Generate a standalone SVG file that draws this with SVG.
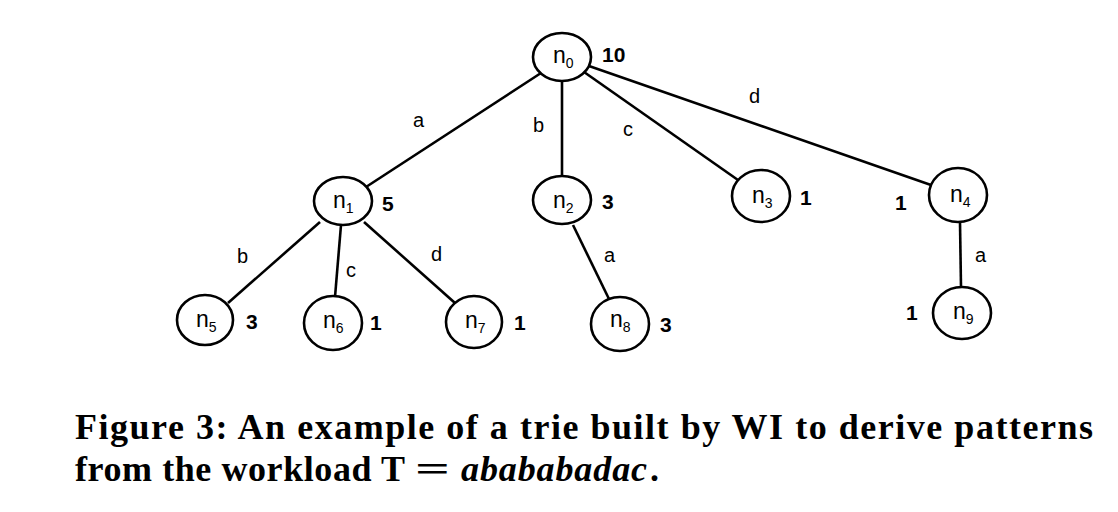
<svg xmlns="http://www.w3.org/2000/svg" width="1118" height="512" viewBox="0 0 1118 512">
<style>
.node ellipse{fill:#fff;stroke:#000;stroke-width:2.6}
.lbl{font-family:"Liberation Sans",Arial,sans-serif;font-size:23px;fill:#000}
.sub{font-size:14px}
.cnt{font-family:"Liberation Sans",Arial,sans-serif;font-size:21px;font-weight:bold;fill:#000}
.el{font-family:"Liberation Sans",Arial,sans-serif;font-size:20px;fill:#000}
#edges line{stroke:#000;stroke-width:2.6}
.cap{font-family:"Liberation Serif","Times New Roman",serif;font-size:36px;font-weight:bold;fill:#000}
</style>
<rect width="1118" height="512" fill="#fff"/>
<g id="edges">
<line x1="541" y1="73" x2="366" y2="187"/>
<line x1="562" y1="81" x2="562" y2="177"/>
<line x1="584" y1="72" x2="738" y2="180"/>
<line x1="589" y1="66" x2="931" y2="185"/>
<line x1="320" y1="222" x2="228" y2="303"/>
<line x1="341" y1="225" x2="335" y2="297"/>
<line x1="364" y1="222" x2="455" y2="303"/>
<line x1="573" y1="225" x2="609" y2="299"/>
<line x1="960" y1="222" x2="961" y2="287"/>
<text class="el" x="413" y="127">a</text>
<text class="el" x="533" y="132">b</text>
<text class="el" x="623" y="136">c</text>
<text class="el" x="749" y="103">d</text>
<text class="el" x="237" y="263">b</text>
<text class="el" x="346" y="277">c</text>
<text class="el" x="431" y="261">d</text>
<text class="el" x="604" y="262">a</text>
<text class="el" x="975" y="262">a</text>
</g>
<g id="n0" class="node"><ellipse cx="562" cy="57" rx="29" ry="24"/><text class="lbl" x="553" y="63">n<tspan class="sub" dy="5">0</tspan></text><text class="cnt" x="602" y="62">10</text></g>
<g id="n1" class="node"><ellipse cx="343" cy="201" rx="29" ry="24"/><text class="lbl" x="333" y="208">n<tspan class="sub" dy="5">1</tspan></text><text class="cnt" x="382" y="211">5</text></g>
<g id="n2" class="node"><ellipse cx="562" cy="200" rx="29" ry="24"/><text class="lbl" x="553" y="208">n<tspan class="sub" dy="5">2</tspan></text><text class="cnt" x="602" y="209">3</text></g>
<g id="n3" class="node"><ellipse cx="761" cy="196" rx="29" ry="26"/><text class="lbl" x="752" y="203">n<tspan class="sub" dy="5">3</tspan></text><text class="cnt" x="800" y="205">1</text></g>
<g id="n4" class="node"><ellipse cx="958" cy="195" rx="29" ry="27"/><text class="lbl" x="950" y="202">n<tspan class="sub" dy="5">4</tspan></text><text class="cnt" x="895" y="210">1</text></g>
<g id="n5" class="node"><ellipse cx="205" cy="320" rx="28" ry="25"/><text class="lbl" x="196" y="327">n<tspan class="sub" dy="5">5</tspan></text><text class="cnt" x="246" y="329">3</text></g>
<g id="n6" class="node"><ellipse cx="333" cy="323" rx="29" ry="27"/><text class="lbl" x="323" y="328">n<tspan class="sub" dy="5">6</tspan></text><text class="cnt" x="370" y="330">1</text></g>
<g id="n7" class="node"><ellipse cx="474" cy="322" rx="28" ry="26"/><text class="lbl" x="465" y="328">n<tspan class="sub" dy="5">7</tspan></text><text class="cnt" x="514" y="330">1</text></g>
<g id="n8" class="node"><ellipse cx="620" cy="324" rx="29" ry="27"/><text class="lbl" x="610" y="327">n<tspan class="sub" dy="5">8</tspan></text><text class="cnt" x="660" y="332">3</text></g>
<g id="n9" class="node"><ellipse cx="962" cy="313" rx="29" ry="26"/><text class="lbl" x="953" y="319">n<tspan class="sub" dy="5">9</tspan></text><text class="cnt" x="906" y="320">1</text></g>
<g id="caption">
<text class="cap" x="75" y="439" textLength="1018" lengthAdjust="spacing">Figure 3:  An example of a trie built by WI to derive patterns</text>
<text class="cap" x="75" y="481" textLength="330" lengthAdjust="spacing">from the workload T</text>
<text class="cap" x="415" y="481" font-weight="normal" textLength="35" lengthAdjust="spacingAndGlyphs">=</text>
<text class="cap" x="461" y="481" font-weight="normal" font-style="italic" textLength="186" lengthAdjust="spacing">abababadac</text>
<text class="cap" x="650" y="481">.</text>
</g>
</svg>
